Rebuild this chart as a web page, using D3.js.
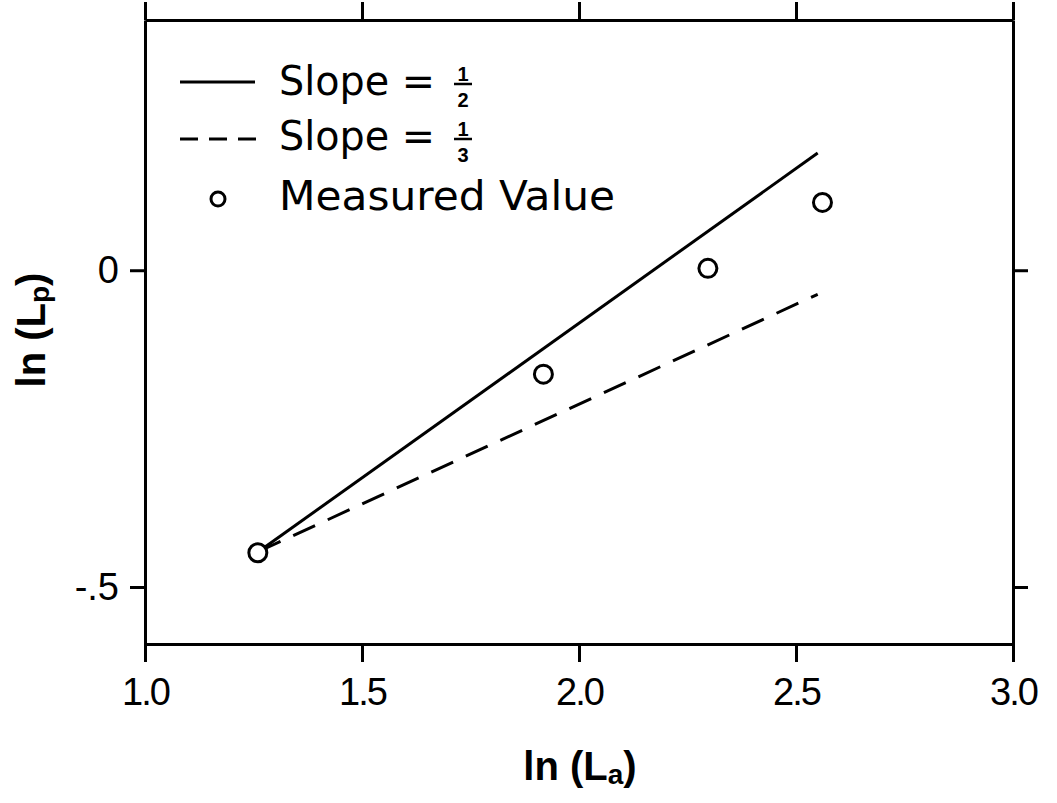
<!DOCTYPE html>
<html><head><meta charset="utf-8">
<script src="https://cdn.jsdelivr.net/npm/d3@7"></script>
<style>body{margin:0;background:#fff}svg{display:block}</style>
</head><body>
<svg id="c" width="1057" height="803"></svg>
<script>
// ---- data ----
const xTicks = [1.0, 1.5, 2.0, 2.5, 3.0];
const xTickLabels = ["1.0", "1.5", "2.0", "2.5", "3.0"];
const yTicks = [0, -0.5];
const yTickLabels = ["0", "-.5"];
const measuredX = [1.26, 1.918, 2.297, 2.561];
const measuredY = [-0.446, -0.164, 0.003, 0.107];
const slopeHalfX = [1.262, 2.55];
const slopeHalfY = [-0.444, 0.185];
const slopeThirdX = [1.262, 2.55];
const slopeThirdY = [-0.444, -0.038];
const legendLabels = ["Slope =", "Slope =", "Measured Value"];
const legendFractions = [["1","2"], ["1","3"], null];

// ---- layout ----
const L = 145, R = 1013, T = 20, B = 644;
const svg = d3.select("#c");
const x = d3.scaleLinear().domain([1.0, 3.0]).range([L, R]);
const y = d3.scaleLinear().domain([-0.59, 0.395]).range([B, T]);

const axisStyle = g => {
  g.select(".domain").attr("stroke", "#000").attr("stroke-width", 3);
  g.selectAll(".tick line").attr("stroke", "#000").attr("stroke-width", 3);
};

// bottom axis
const gb = svg.append("g").attr("transform", `translate(0,${B})`)
  .call(d3.axisBottom(x).tickValues(xTicks).tickSize(18).tickSizeOuter(0)
    .tickFormat((d, i) => xTickLabels[i]));
axisStyle(gb);
gb.selectAll(".tick text").attr("font-family", "Liberation Sans, Arial, sans-serif")
  .attr("font-size", 38).attr("letter-spacing", -2).attr("fill", "#000").attr("dy", "1.05em");

// top axis
const gt = svg.append("g").attr("transform", `translate(0,${T})`)
  .call(d3.axisTop(x).tickValues(xTicks).tickSize(18).tickSizeOuter(0).tickFormat(""));
axisStyle(gt);

// left axis
const gl = svg.append("g").attr("transform", `translate(${L},0)`)
  .call(d3.axisLeft(y).tickValues(yTicks).tickSize(15).tickSizeOuter(0)
    .tickFormat((d, i) => yTickLabels[i]));
axisStyle(gl);
gl.selectAll(".tick text").attr("font-family", "Liberation Sans, Arial, sans-serif")
  .attr("font-size", 38).attr("fill", "#000").attr("dx", "-8");

// right axis
const gr = svg.append("g").attr("transform", `translate(${R},0)`)
  .call(d3.axisRight(y).tickValues(yTicks).tickSize(15).tickSizeOuter(0).tickFormat(""));
axisStyle(gr);

// lines
const line = d3.line().x(d => x(d[0])).y(d => y(d[1]));
svg.append("path").datum(slopeHalfX.map((v, i) => [v, slopeHalfY[i]]))
  .attr("d", line).attr("fill", "none").attr("stroke", "#000").attr("stroke-width", 3);
svg.append("path").datum(slopeThirdX.map((v, i) => [v, slopeThirdY[i]]))
  .attr("d", line).attr("fill", "none").attr("stroke", "#000").attr("stroke-width", 3)
  .attr("stroke-dasharray", "24,14");

// measured points
svg.selectAll("circle.pt").data(measuredX.map((v, i) => [v, measuredY[i]])).join("circle")
  .attr("class", "pt").attr("cx", d => x(d[0])).attr("cy", d => y(d[1])).attr("r", 9)
  .attr("fill", "#fff").attr("stroke", "#000").attr("stroke-width", 3);

// legend
const lgFont = "DejaVu Sans, sans-serif";
const rows = [95, 150, 210];
const lg = svg.append("g");
lg.append("line").attr("x1", 180).attr("x2", 255).attr("y1", 82).attr("y2", 82)
  .attr("stroke", "#000").attr("stroke-width", 3);
lg.append("line").attr("x1", 180).attr("x2", 256).attr("y1", 139).attr("y2", 139)
  .attr("stroke", "#000").attr("stroke-width", 3).attr("stroke-dasharray", "18,11");
lg.append("circle").attr("cx", 218).attr("cy", 199).attr("r", 7)
  .attr("fill", "#fff").attr("stroke", "#000").attr("stroke-width", 3);

legendLabels.forEach((lab, i) => {
  const t = lg.append("text").attr("x", 279).attr("y", rows[i])
    .attr("font-family", lgFont).attr("font-size", 40).attr("fill", "#000").text(lab)
    .attr("textLength", i === 2 ? 336 : 156).attr("lengthAdjust", "spacingAndGlyphs");
  const fr = legendFractions[i];
  if (fr) {
    const fx = 463, by = rows[i];
    lg.append("text").attr("x", fx).attr("y", by - 14).attr("text-anchor", "middle")
      .attr("font-family", "Liberation Sans, Arial, sans-serif").attr("font-weight", "bold")
      .attr("font-size", 20).text(fr[0]);
    lg.append("line").attr("x1", fx - 9).attr("x2", fx + 9).attr("y1", by - 11).attr("y2", by - 11)
      .attr("stroke", "#000").attr("stroke-width", 2.5);
    lg.append("text").attr("x", fx).attr("y", by + 12).attr("text-anchor", "middle")
      .attr("font-family", "Liberation Sans, Arial, sans-serif").attr("font-weight", "bold")
      .attr("font-size", 20).text(fr[1]);
  }
});

// axis titles
const xt = svg.append("text").attr("x", 580).attr("y", 780).attr("text-anchor", "middle")
  .attr("font-family", "Liberation Sans, Arial, sans-serif").attr("font-weight", "bold")
  .attr("font-size", 40).attr("fill", "#000");
xt.append("tspan").text("ln (L");
xt.append("tspan").attr("font-size", 28).attr("dy", 4).text("a");
xt.append("tspan").attr("dy", -4).text(")");

const yt = svg.append("text").attr("transform", "translate(45,330) rotate(-90)")
  .attr("text-anchor", "middle")
  .attr("font-family", "Liberation Sans, Arial, sans-serif").attr("font-weight", "bold")
  .attr("font-size", 40).attr("fill", "#000");
yt.append("tspan").text("ln (L");
yt.append("tspan").attr("font-size", 28).attr("dy", 4).text("p");
yt.append("tspan").attr("dy", -4).text(")");
</script>
</body></html>
